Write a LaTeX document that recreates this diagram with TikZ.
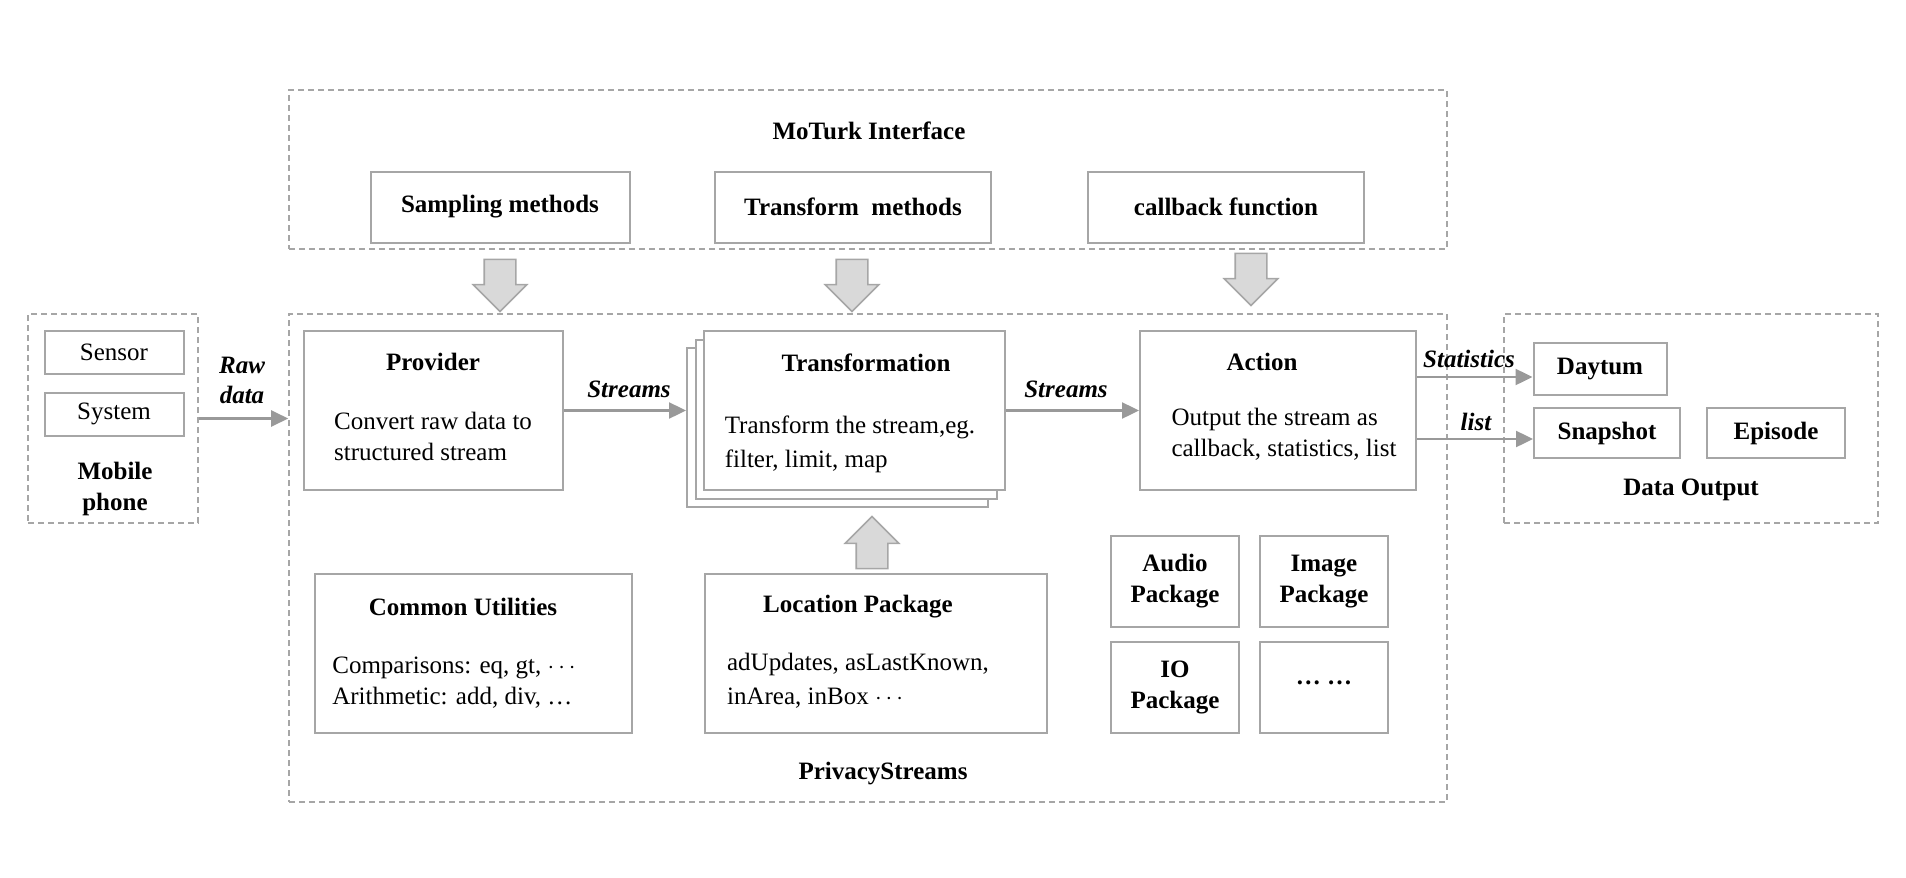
\documentclass[tikz,border=0pt]{standalone}
\usepackage{fontspec}
\setmainfont{Liberation Serif}
\usetikzlibrary{shapes.arrows,arrows.meta}

\begin{document}
\begin{tikzpicture}
[
x=0.5pt, y=-0.5pt,
every node/.style={font=\fontsize{12.5}{15.5}\selectfont},
group/.style={rectangle, draw=gray!70, line width=0.8pt, dash pattern=on 3pt off 2pt},
box/.style={rectangle, draw=gray!70, fill=white, line width=1pt},
ttl/.style={font=\fontsize{12.5}{15.5}\selectfont\bfseries},
body/.style={align=left, inner sep=0pt},
flowlabel/.style={font=\fontsize{12.5}{15}\selectfont\bfseries\itshape, align=center, inner sep=1pt},
blockarrow/.style={single arrow, draw=gray!70, fill=gray!30, line width=0.8pt, minimum height=26pt, single arrow head extend=5.5pt, inner sep=7.5pt},
flow/.style={draw=gray!80, line width=1.2pt, -{Triangle[length=8.5pt,width=8pt]}},
]
\useasboundingbox (0,0) rectangle (1906,878);

% containers
\node at (868,169.5) [group, minimum width=579pt, minimum height=79.5pt] (moturk) {};
\node at (868,558) [group, minimum width=579pt, minimum height=244pt] (privacy) {};
\node at (113,418.5) [group, minimum width=85pt, minimum height=104.5pt] (mobile) {};
\node at (1691,418.5) [group, minimum width=187pt, minimum height=104.5pt] (dataout) {};

\node at (869,131) [ttl] (moturklabel) {MoTurk Interface};
\node at (883,774) [ttl] (privacylabel) {PrivacyStreams};
\node at (115,489) [ttl, align=center] (mobilelabel) {Mobile\\phone};
\node at (1691,490) [ttl] (dataoutlabel) {Data Output};

% interface methods
\node at (500,207) [box, minimum width=129.5pt, minimum height=35.5pt, ttl] (sampling) {\raisebox{2pt}{Sampling methods}};
\node at (853,207) [box, minimum width=138pt, minimum height=35.5pt, ttl] (transmeth) {Transform~~methods};
\node at (1226,207) [box, minimum width=138pt, minimum height=35.5pt, ttl] (callback) {callback function};

\node at (500,277.5) [blockarrow, shape border rotate=270] (samparrow) {};
\node at (852,277.5) [blockarrow, shape border rotate=270] (transarrow) {};
\node at (1251,271.5) [blockarrow, shape border rotate=270] (callarrow) {};

% mobile phone
\node at (114,352) [box, minimum width=69.5pt, minimum height=21.5pt] (sensor) {Sensor};
\node at (114,414) [box, minimum width=69.5pt, minimum height=21.5pt] (system) {System};

% pipeline
\node at (433.5,410.5) [box, minimum width=129.5pt, minimum height=79.5pt] (provider) {};
\node at (433,362) [ttl] (provtitle) {Provider};
\node at (433,436) [body] (provtext) {Convert raw data to\\structured stream};

\node at (837.5,427.5) [box, minimum width=150.5pt, minimum height=79.5pt] (trans3) {};
\node at (846,419) [box, minimum width=150.5pt, minimum height=79.5pt] (trans2) {};
\node at (854.5,410.5) [box, minimum width=150.5pt, minimum height=79.5pt] (trans) {};
\node at (866,363) [ttl] (transtitle) {Transformation};
\node at (850,444) [body, font=\fontsize{12.5}{17}\selectfont] (transtext) {Transform the stream,eg.\\filter, limit, map};

\node at (1278,410.5) [box, minimum width=138pt, minimum height=79.5pt] (action) {};
\node at (1262,362) [ttl] (actiontitle) {Action};
\node at (1284,434) [body] (actiontext) {Output the stream as\\callback, statistics, list};

% packages
\node at (473.5,653.5) [box, minimum width=158.5pt, minimum height=79.5pt] (common) {};
\node at (463,607) [ttl] (commontitle) {Common Utilities};
\node at (454,683) [body] (commontext) {Comparisons: eq, gt, $\cdots$\\Arithmetic: add, div, \ldots};

\node at (876,653.5) [box, minimum width=171pt, minimum height=79.5pt] (location) {};
\node at (858,607) [ttl] (loctitle) {Location Package};
\node at (858,681) [body, font=\fontsize{12.5}{17}\selectfont] (loctext) {adUpdates, asLastKnown,\\inArea, inBox $\cdots$};

\node at (872,550.5) [blockarrow, shape border rotate=90] (locarrow) {};

\node at (1175,581.5) [box, minimum width=64pt, minimum height=45.5pt, ttl, align=center] (audio) {Audio\\Package};
\node at (1324,581.5) [box, minimum width=64pt, minimum height=45.5pt, ttl, align=center] (image) {Image\\Package};
\node at (1175,687.5) [box, minimum width=64pt, minimum height=45.5pt, ttl, align=center] (io) {IO\\Package};
\node at (1324,687.5) [box, minimum width=64pt, minimum height=45.5pt, ttl] (more) {\raisebox{5pt}{\ldots\ \ldots}};

% data output
\node at (1600,369) [box, minimum width=66.5pt, minimum height=26pt, ttl] (daytum) {Daytum};
\node at (1607,433) [box, minimum width=73pt, minimum height=25pt, ttl] (snapshot) {Snapshot};
\node at (1776,433) [box, minimum width=69pt, minimum height=25pt, ttl] (episode) {Episode};
\coordinate (statin) at ([yshift=-4pt]daytum.west);
\coordinate (listin) at ([yshift=-3pt]snapshot.west);

% flows
\draw[flow] (mobile.east) -- (mobile.east -| privacy.west);
\node at (242,380) [flowlabel] (rawlabel) {Raw\\data};
\draw[flow] (provider.east) -- (provider.east -| trans3.west);
\node at (629,389) [flowlabel] (streams1) {Streams};
\draw[flow] (trans.east) -- (action.west);
\node at (1066,389) [flowlabel] (streams2) {Streams};
\draw[flow] (action.east |- statin) -- (statin);
\node at (1469,359) [flowlabel] (statlabel) {Statistics};
\draw[flow] (action.east |- listin) -- (listin);
\node at (1476,422) [flowlabel] (listlabel) {list};
\end{tikzpicture}
\end{document}
